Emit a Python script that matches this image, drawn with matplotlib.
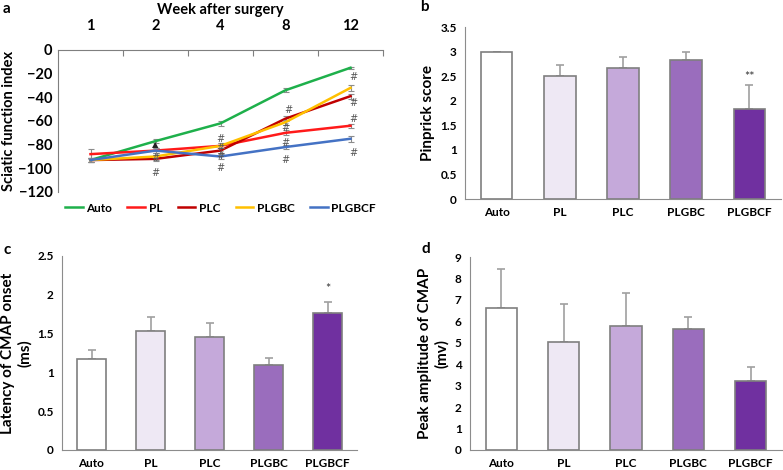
import matplotlib
matplotlib.use("Agg")
import matplotlib.pyplot as plt

plt.rcParams["font.family"] = ["Lato", "DejaVu Sans"]
plt.rcParams["font.weight"] = "bold"

# panel a: sciatic function index over time
weeks = ["1", "2", "4", "8", "12"]
sfi_groups = ["Auto", "PL", "PLC", "PLGBC", "PLGBCF"]
sfi_auto = [-93, -77, -62, -34, -15]
sfi_pl = [-88, -85, -81, -70, -64]
sfi_plc = [-93, -92, -85, -58, -39]
sfi_plgbc = [-93, -90, -81, -61, -32]
sfi_plgbcf = [-93, -85, -90, -82, -75]
sfi_auto_err = [2, 2, 2, 1.5, 1]
sfi_pl_err = [4, 2, 2, 2, 1.5]
sfi_plc_err = [2, 2, 2, 2, 2]
sfi_plgbc_err = [2, 3, 2, 2, 2.5]
sfi_plgbcf_err = [2, 2, 2, 2, 2.5]
sfi_colors = ["#1EB04B", "#FF1A1A", "#C00000", "#FFC000", "#4472C4"]

# significance marks on panel a: (week index, y, symbol)
sig_marks = [
    (1, -80, "\u25b2"), (1, -91, "#"), (1, -104, "#"),
    (2, -75, "#"), (2, -83, "#"), (2, -90, "#"), (2, -100, "#"),
    (3.05, -51, "#"), (3, -66, "#"), (3, -79, "#"), (3, -93, "#"),
    (4.05, -23, "#"), (4.05, -45, "#"), (4.05, -58, "#"), (4.05, -87, "#"),
]

# bar panels
groups = ["Auto", "PL", "PLC", "PLGBC", "PLGBCF"]
pinprick = [3.0, 2.5, 2.67, 2.83, 1.83]
pinprick_err = [0.0, 0.22, 0.22, 0.17, 0.48]
latency = [1.17, 1.53, 1.46, 1.10, 1.76]
latency_err = [0.12, 0.18, 0.18, 0.09, 0.15]
amplitude = [6.6, 5.05, 5.79, 5.64, 3.21]
amplitude_err = [1.82, 1.75, 1.51, 0.57, 0.67]
bar_colors = ["#FFFFFF", "#EEE8F4", "#C5A9DA", "#9A6DBD", "#7030A0"]

W, H = 783, 470
fig = plt.figure(figsize=(W / 100, H / 100), dpi=100)


def px_axes(left, top, right, bottom):
    return fig.add_axes([left / W, 1 - bottom / H, (right - left) / W, (bottom - top) / H])


# ---- panel a ----
ax = px_axes(58, 50, 383, 192)
x = list(range(len(weeks)))
series = [sfi_auto, sfi_pl, sfi_plc, sfi_plgbc, sfi_plgbcf]
errs = [sfi_auto_err, sfi_pl_err, sfi_plc_err, sfi_plgbc_err, sfi_plgbcf_err]
for name, vals, err, col in zip(sfi_groups, series, errs, sfi_colors):
    ax.errorbar(x, vals, yerr=err, fmt="none", ecolor="#8c8c8c", elinewidth=0.8, capsize=2.5, capthick=0.8)
    ax.plot(x, vals, color=col, lw=1.8, label=name)
for xi, yi, s in sig_marks:
    size = 6 if s != "#" else 7
    col = "#222222" if s != "#" else "#555555"
    ax.text(xi, yi, s, ha="center", va="center", fontsize=size, color=col, fontweight="normal",
            family=["DejaVu Sans"])
ax.set_xlim(-0.5, 4.5)
ax.set_ylim(-120, 0)
ax.set_yticks(range(-120, 1, 20))
ax.xaxis.tick_top()
ax.set_xticks([0.5, 1.5, 2.5, 3.5, 4.5])
ax.set_xticklabels([])
ax.tick_params(axis="x", which="major", direction="in", length=4, color="#7f7f7f")
ax.set_xticks(x, minor=True)
ax.set_xticklabels(weeks, minor=True, fontsize=10.5, fontweight="bold")
ax.tick_params(axis="x", which="minor", length=0, pad=12, top=True, labeltop=True)
ax.tick_params(axis="y", length=0, labelsize=10.5, pad=4)
for lab in ax.get_yticklabels():
    lab.set_fontweight("bold")
ax.spines["bottom"].set_visible(False)
ax.spines["right"].set_visible(False)
ax.spines["top"].set_color("#7f7f7f")
ax.spines["left"].set_color("#7f7f7f")
ax.set_ylabel("Sciatic function index", fontsize=10.5, fontweight="bold", labelpad=2)
ax.set_title("Week after surgery", fontsize=10.5, fontweight="bold", pad=26)
ax.legend(loc="upper center", bbox_to_anchor=(0.5, 0.0), ncol=5, frameon=False,
          handlelength=1.5, columnspacing=1.3, handletextpad=0.3,
          prop={"weight": "bold", "size": 8.5})
fig.text(3 / W, 1 - 9 / H, "a", fontsize=11, fontweight="bold", va="center")


def bar_panel(ax, vals, err, ylim, step, ylabel, fmt, star=None):
    xs = list(range(len(groups)))
    ax.bar(xs, vals, width=0.5, color=bar_colors, edgecolor="#7f7f7f", linewidth=1.2, zorder=2)
    ax.errorbar(xs, vals, yerr=[[0] * len(err), err], fmt="none", ecolor="#a0a0a0",
                elinewidth=1.2, capsize=3, capthick=1.2, zorder=1)
    ax.set_xlim(-0.5, 4.5)
    ax.set_ylim(0, ylim)
    ticks = []
    t = 0.0
    while t <= ylim + 1e-9:
        ticks.append(t)
        t += step
    ax.set_yticks(ticks)
    ax.set_yticklabels([fmt(v) for v in ticks], fontsize=8.5, fontweight="bold")
    ax.set_xticks(xs)
    ax.set_xticklabels(groups, fontsize=8.5, fontweight="bold")
    ax.tick_params(axis="both", length=0)
    ax.tick_params(axis="x", pad=6)
    ax.tick_params(axis="y", pad=6)
    for side in ["top", "right"]:
        ax.spines[side].set_visible(False)
    ax.spines["left"].set_color("#8c8c8c")
    ax.spines["bottom"].set_color("#8c8c8c")
    ax.set_ylabel(ylabel, fontsize=11, fontweight="bold", linespacing=1.2)
    if star:
        idx, y, s = star
        ax.text(idx, y, s, ha="center", va="center", fontsize=9, color="#333333", fontweight="normal")


def num_fmt(v):
    return f"{v:g}"


# ---- panel b ----
axb = px_axes(465, 27, 781, 199)
bar_panel(axb, pinprick, pinprick_err, 3.5, 0.5, "Pinprick score", num_fmt, star=(4, 2.48, "**"))
fig.text(420 / W, 1 - 7 / H, "b", fontsize=11, fontweight="bold", va="center")

# ---- panel c ----
axc = px_axes(62, 256, 357, 450)
bar_panel(axc, latency, latency_err, 2.5, 0.5, "Latency of CMAP onset\n(ms)", num_fmt, star=(4, 2.07, "*"))
fig.text(3 / W, 1 - 250 / H, "c", fontsize=11, fontweight="bold", va="center")

# ---- panel d ----
axd = px_axes(470, 257, 782, 450)
bar_panel(axd, amplitude, amplitude_err, 9, 1, "Peak amplitude of CMAP\n(mv)", num_fmt)
fig.text(421 / W, 1 - 249 / H, "d", fontsize=11, fontweight="bold", va="center")

fig.savefig("out.png", dpi=100)
